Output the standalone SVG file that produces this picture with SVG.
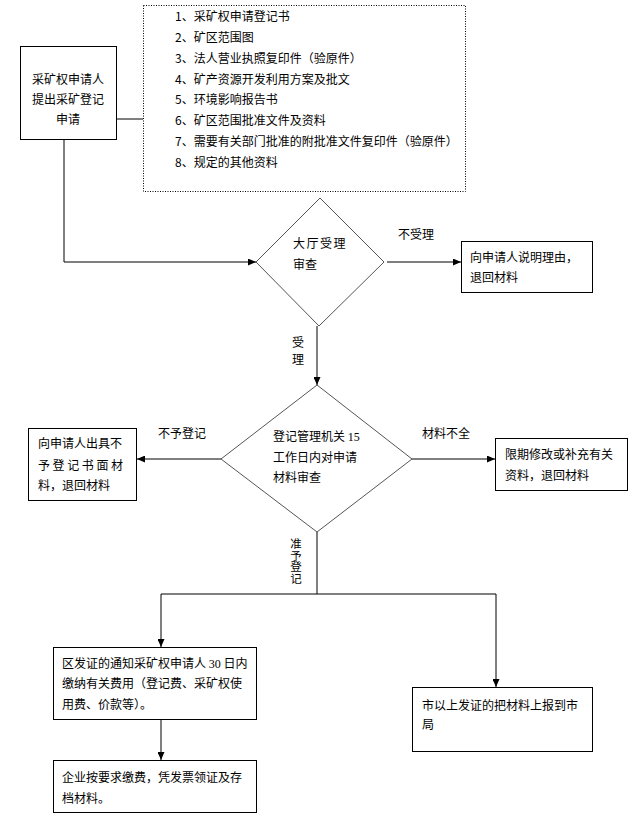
<svg xmlns="http://www.w3.org/2000/svg" width="640" height="820" viewBox="0 0 640 820">
<defs>
<style>
text{font-family:"Noto Sans CJK SC","Noto Sans CJK TC",sans-serif;font-size:12px;fill:#000}
.box{fill:#fff;stroke:#000;stroke-width:1}
.dia{fill:#fff;stroke:#555;stroke-width:1}
.dot{fill:none;stroke:#000;stroke-width:1;stroke-dasharray:1,1.5}
.ln{fill:none;stroke:#000;stroke-width:1}
.num{font-family:"Liberation Serif",serif}
</style>
<marker id="arr" markerUnits="userSpaceOnUse" markerWidth="8" markerHeight="7" refX="8" refY="3.5" orient="auto">
<path d="M0,0 L8,3.5 L0,7 z" fill="#000"/>
</marker>
</defs>
<rect width="640" height="820" fill="#fff"/>
<g id="connectors">
<line class="ln" x1="117" y1="119" x2="143" y2="119"/>
<path class="ln" d="M64 140 V262 H256" stroke="#333" marker-end="url(#arr)"/>
<line class="ln" x1="387" y1="262" x2="461" y2="262" marker-end="url(#arr)"/>
<line class="ln" x1="317" y1="326" x2="317" y2="385" marker-end="url(#arr)"/>
<line class="ln" x1="221" y1="459" x2="137" y2="459" marker-end="url(#arr)"/>
<line class="ln" x1="412" y1="459" x2="495" y2="459" marker-end="url(#arr)"/>
<path class="ln" d="M317 532 V594"/>
<path class="ln" d="M317 594 H161 V647" marker-end="url(#arr)"/>
<path class="ln" d="M317 594 H496 V687" marker-end="url(#arr)"/>
<line class="ln" x1="161" y1="719" x2="161" y2="760" marker-end="url(#arr)"/>
<text x="398" y="238.5">不受理</text>
<text x="292" y="346.5">受</text>
<text x="292" y="364">理</text>
<text x="158" y="437.5">不予登记</text>
<text x="422" y="437.5">材料不全</text>
<text x="296" y="538" writing-mode="vertical-rl" style="font-size:11.5px">准予登记</text>
</g>
<g id="applicant">
<rect class="box" x="20.5" y="46.5" width="96" height="93"/>
<text x="68" y="83.5" text-anchor="middle">采矿权申请人</text>
<text x="68" y="103.5" text-anchor="middle">提出采矿登记</text>
<text x="68" y="123.5" text-anchor="middle">申请</text>
</g>
<g id="materials">
<rect class="dot" x="143.5" y="5.5" width="322" height="186"/>
<text x="175" y="21">1、采矿权申请登记书</text>
<text x="175" y="42">2、矿区范围图</text>
<text x="175" y="63">3、法人营业执照复印件（验原件）</text>
<text x="175" y="83.5">4、矿产资源开发利用方案及批文</text>
<text x="175" y="104">5、环境影响报告书</text>
<text x="175" y="125">6、矿区范围批准文件及资料</text>
<text x="175" y="146">7、需要有关部门批准的附批准文件复印件（验原件）</text>
<text x="175" y="167">8、规定的其他资料</text>
</g>
<g id="hall-review">
<polygon class="dia" points="320,198 384,262 319,326 256,262"/>
<text x="293" y="247.5" letter-spacing="1.5">大厅受理</text>
<text x="293" y="268.5">审查</text>
</g>
<g id="reject-hall">
<rect class="box" x="461.5" y="241.5" width="131" height="51"/>
<text x="470" y="261.5">向申请人说明理由，</text>
<text x="470" y="281.5">退回材料</text>
</g>
<g id="registry-review">
<polygon class="dia" points="317,385 412,459 317,532 221,459"/>
<text x="273" y="440.5">登记管理机关 <tspan class="num">15</tspan></text>
<text x="273" y="461.5">工作日内对申请</text>
<text x="273" y="481.5">材料审查</text>
</g>
<g id="not-registered">
<rect class="box" x="28.5" y="428.5" width="108" height="72"/>
<text x="38" y="447.5">向申请人出具不</text>
<text x="38" y="469.5" letter-spacing="2.6">予登记书面材</text>
<text x="38" y="489.5">料，退回材料</text>
</g>
<g id="incomplete">
<rect class="box" x="495.5" y="438.5" width="132" height="52"/>
<text x="505" y="458.5">限期修改或补充有关</text>
<text x="505" y="479.5">资料，退回材料</text>
</g>
<g id="district-notice">
<rect class="box" x="53.5" y="647.5" width="203" height="72"/>
<text x="62" y="667.5">区发证的通知采矿权申请人 <tspan class="num">30</tspan> 日内</text>
<text x="62" y="687.5">缴纳有关费用（登记费、采矿权使</text>
<text x="62" y="708.5">用费、价款等）。</text>
</g>
<g id="payment">
<rect class="box" x="53.5" y="760.5" width="203" height="52"/>
<text x="62" y="781.5">企业按要求缴费，凭发票领证及存</text>
<text x="62" y="802.5">档材料。</text>
</g>
<g id="city-report">
<rect class="box" x="412.5" y="687.5" width="180" height="64"/>
<text x="422" y="709.5">市以上发证的把材料上报到市</text>
<text x="422" y="728.5">局</text>
</g>
</svg>
